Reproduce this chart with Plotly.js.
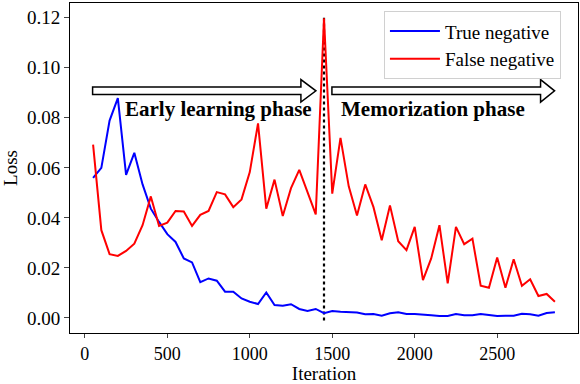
<!DOCTYPE html>
<html>
<head>
<meta charset="utf-8">
<script src="https://cdn.plot.ly/plotly-3.0.1.min.js"></script>
<style>
  html, body { margin: 0; padding: 0; background: #fff; }
  #chart { width: 580px; height: 384px; }
</style>
</head>
<body>
<div id="chart"></div>
<script>
// ============ DATA ============
const ITERATIONS = [
  50, 100, 150, 200, 250, 300, 350, 400, 450, 500,
  550, 600, 650, 700, 750, 800, 850, 900, 950, 1000,
  1050, 1100, 1150, 1200, 1250, 1300, 1350, 1400, 1450, 1500,
  1550, 1600, 1650, 1700, 1750, 1800, 1850, 1900, 1950, 2000,
  2050, 2100, 2150, 2200, 2250, 2300, 2350, 2400, 2450, 2500,
  2550, 2600, 2650, 2700, 2750, 2800, 2850
];
const TRUE_NEG = [
  0.0560, 0.0600, 0.0789, 0.0879, 0.0572, 0.0660, 0.0534, 0.0437, 0.0384, 0.0335,
  0.0304, 0.0238, 0.0222, 0.0143, 0.0158, 0.0149, 0.0105, 0.0105, 0.0078, 0.0065,
  0.0056, 0.0102, 0.0052, 0.0049, 0.0055, 0.0036, 0.0028, 0.0036, 0.0019, 0.0028,
  0.0025, 0.0023, 0.0022, 0.0015, 0.0016, 0.0009, 0.0019, 0.0023, 0.0016, 0.0016,
  0.0015, 0.0011, 0.0008, 0.0008, 0.0016, 0.0011, 0.0011, 0.0016, 0.0012, 0.0008,
  0.0009, 0.0009, 0.0017, 0.0015, 0.0009, 0.0020, 0.0023
];
const FALSE_NEG = [
  0.0693, 0.0351, 0.0255, 0.0248, 0.0268, 0.0297, 0.0371, 0.0486, 0.0368, 0.0381,
  0.0428, 0.0426, 0.0368, 0.0412, 0.0428, 0.0503, 0.0494, 0.0443, 0.0474, 0.0583,
  0.0778, 0.0437, 0.0553, 0.0408, 0.0519, 0.0592, 0.0503, 0.0414, 0.1198, 0.0497,
  0.0720, 0.0526, 0.0410, 0.0534, 0.0443, 0.0311, 0.0450, 0.0307, 0.0271, 0.0364,
  0.0151, 0.0238, 0.0371, 0.0138, 0.0364, 0.0295, 0.0317, 0.0129, 0.0121, 0.0242,
  0.0121, 0.0235, 0.0129, 0.0155, 0.0088, 0.0096, 0.0065
];
const SPLIT_ITER = 1450;
const PHASE_LABELS = ['Early learning phase', 'Memorization phase'];
const Y_TICKS = [0, 0.02, 0.04, 0.06, 0.08, 0.10, 0.12];
const X_TICKS = [0, 500, 1000, 1500, 2000, 2500];

// ============ HELPERS ============
const FONT = 'Liberation Serif, Times New Roman, serif';

// hollow block arrow as an svg path in data coords
function arrowPath(x0, xHead, xTip, yc, bodyH, headH){
  return 'M' + x0 + ',' + (yc - bodyH) +
    ' L' + xHead + ',' + (yc - bodyH) +
    ' L' + xHead + ',' + (yc - headH) +
    ' L' + xTip + ',' + yc +
    ' L' + xHead + ',' + (yc + headH) +
    ' L' + xHead + ',' + (yc + bodyH) +
    ' L' + x0 + ',' + (yc + bodyH) + ' Z';
}

const traces = [
  { x: ITERATIONS, y: TRUE_NEG, type: 'scatter', mode: 'lines', name: 'True negative',
    line: { color: '#0000ff', width: 2 } },
  { x: ITERATIONS, y: FALSE_NEG, type: 'scatter', mode: 'lines', name: 'False negative',
    line: { color: '#ff0000', width: 2 } }
];

const shapes = [
  { type: 'line', xref: 'x', yref: 'y', x0: SPLIT_ITER, x1: SPLIT_ITER, y0: -0.001, y1: 0.12,
    line: { color: '#000', width: 2.2, dash: 'dot' }, layer: 'below' },
  { type: 'path', xref: 'x', yref: 'y', path: arrowPath(47, 1310, 1401, 0.0908, 0.0015, 0.0045),
    fillcolor: '#fff', line: { color: '#000', width: 1.5 } },
  { type: 'path', xref: 'x', yref: 'y', path: arrowPath(1498, 2763, 2848, 0.0908, 0.0015, 0.0045),
    fillcolor: '#fff', line: { color: '#000', width: 1.5 } }
];

const annotations = [
  { x: 810, y: 0.0837, xref: 'x', yref: 'y', text: '<b>' + PHASE_LABELS[0] + '</b>', showarrow: false,
    font: { family: FONT, size: 21, color: '#000' } },
  { x: 2108, y: 0.0837, xref: 'x', yref: 'y', text: '<b>' + PHASE_LABELS[1] + '</b>', showarrow: false,
    font: { family: FONT, size: 21, color: '#000' } }
];

const layout = {
  width: 580, height: 384,
  paper_bgcolor: '#fff', plot_bgcolor: '#fff',
  font: { family: FONT, size: 19, color: '#000' },
  margin: { l: 70, r: 2, t: 3, b: 51 },
  showlegend: true,
  legend: {
    x: 0.618, y: 0.975, xanchor: 'left', yanchor: 'top',
    itemwidth: 50,
    bgcolor: '#fff', bordercolor: '#d0d0d0', borderwidth: 1,
    font: { family: FONT, size: 19 }
  },
  xaxis: {
    range: [-90, 2990], tickvals: X_TICKS, ticks: 'outside', ticklen: 4, tickwidth: 1,
    tickfont: { family: FONT, size: 18 },
    showgrid: false, zeroline: false, showline: true, mirror: true, linecolor: '#000', linewidth: 1,
    title: { text: 'Iteration', standoff: 1, font: { family: FONT, size: 19 } }
  },
  yaxis: {
    range: [-0.006, 0.1259], tickvals: Y_TICKS, tickformat: '.2f', ticks: 'outside', ticklen: 5, tickwidth: 1,
    showgrid: false, zeroline: false, showline: true, mirror: true, linecolor: '#000', linewidth: 1,
    title: { text: 'Loss', standoff: 6, font: { family: FONT, size: 19 } }
  },
  shapes: shapes,
  annotations: annotations
};

Plotly.newPlot('chart', traces, layout, { displayModeBar: false, staticPlot: true });
</script>
</body>
</html>
